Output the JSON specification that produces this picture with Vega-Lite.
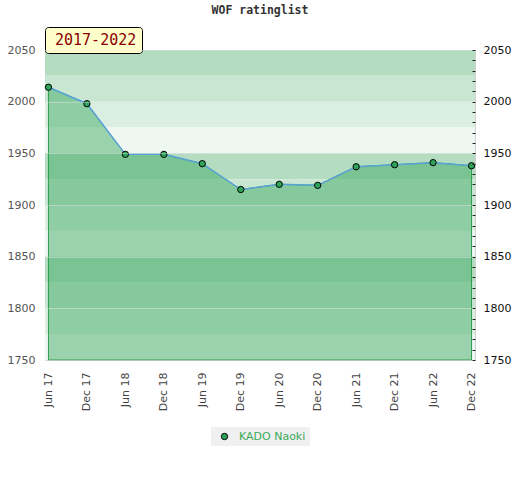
{
  "$schema": "https://vega.github.io/schema/vega-lite/v6.json",
  "autosize": "none",
  "width": 430,
  "height": 310,
  "padding": {"left": 45, "top": 50, "right": 45, "bottom": 120},
  "background": "white",
  "title": {
    "text": "WOF ratinglist",
    "font": "DejaVu Sans Mono",
    "fontSize": 11.5,
    "fontWeight": "bold",
    "color": "#333",
    "anchor": "middle",
    "offset": 10
  },
  "data": {
    "values": [
      {"period": "Jun 17", "rating": 2014, "player": "KADO Naoki"},
      {"period": "Dec 17", "rating": 1998, "player": "KADO Naoki"},
      {"period": "Jun 18", "rating": 1949, "player": "KADO Naoki"},
      {"period": "Dec 18", "rating": 1949, "player": "KADO Naoki"},
      {"period": "Jun 19", "rating": 1940, "player": "KADO Naoki"},
      {"period": "Dec 19", "rating": 1915, "player": "KADO Naoki"},
      {"period": "Jun 20", "rating": 1920, "player": "KADO Naoki"},
      {"period": "Dec 20", "rating": 1919, "player": "KADO Naoki"},
      {"period": "Jun 21", "rating": 1937, "player": "KADO Naoki"},
      {"period": "Dec 21", "rating": 1939, "player": "KADO Naoki"},
      {"period": "Jun 22", "rating": 1941, "player": "KADO Naoki"},
      {"period": "Dec 22", "rating": 1938, "player": "KADO Naoki"}
    ]
  },
  "layer": [
    {
      "data": {
        "values": [
          {"lo": 2025, "hi": 2050, "tier": "a"},
          {"lo": 2000, "hi": 2025, "tier": "b"},
          {"lo": 1975, "hi": 2000, "tier": "c"},
          {"lo": 1950, "hi": 1975, "tier": "d"},
          {"lo": 1925, "hi": 1950, "tier": "a"},
          {"lo": 1900, "hi": 1925, "tier": "b"},
          {"lo": 1875, "hi": 1900, "tier": "c"},
          {"lo": 1850, "hi": 1875, "tier": "d"},
          {"lo": 1825, "hi": 1850, "tier": "a"},
          {"lo": 1800, "hi": 1825, "tier": "b"},
          {"lo": 1775, "hi": 1800, "tier": "c"},
          {"lo": 1750, "hi": 1775, "tier": "d"}
        ]
      },
      "mark": {"type": "rect"},
      "encoding": {
        "x": {"value": 0},
        "x2": {"value": "width"},
        "y": {
          "field": "lo",
          "type": "quantitative",
          "scale": {"domain": [1750, 2050], "nice": false, "zero": false},
          "axis": {
            "orient": "left",
            "values": [1750, 1800, 1850, 1900, 1950, 2000, 2050],
            "format": "d",
            "grid": true,
            "gridColor": "#e2e2e2",
            "gridOpacity": 0.45,
            "ticks": false,
            "labelPadding": 10,
            "labelColor": "#555",
            "zindex": 1
          }
        },
        "y2": {"field": "hi"},
        "fill": {
          "field": "tier",
          "type": "nominal",
          "scale": {"domain": ["a", "b", "c", "d"], "range": ["#b3dcc1", "#c8e6d2", "#dbeee2", "#eef7f1"]},
          "legend": null
        }
      }
    },
    {
      "mark": {"type": "area", "color": "#3ca963", "fillOpacity": 0.48, "stroke": "#2e9e4f", "strokeWidth": 1},
      "encoding": {
        "x": {"field": "period", "type": "ordinal", "sort": null, "scale": {"type": "point", "padding": 0.09}},
        "y": {
          "field": "rating",
          "type": "quantitative",
          "scale": {"domain": [1750, 2050], "nice": false, "zero": false},
          "axis": {
            "orient": "right",
            "values": [1750, 1760, 1770, 1780, 1790, 1800, 1810, 1820, 1830, 1840, 1850, 1860, 1870, 1880, 1890, 1900, 1910, 1920, 1930, 1940, 1950, 1960, 1970, 1980, 1990, 2000, 2010, 2020, 2030, 2040, 2050],
            "format": "d",
            "labelExpr": "datum.value % 50 === 0 ? datum.label : ''",
            "grid": false,
            "ticks": true,
            "tickSize": -3,
            "tickColor": "#222",
            "labelPadding": 11,
            "labelColor": "#111",
            "labelOverlap": false,
            "zindex": 1
          }
        },
        "y2": {"datum": 1750}
      }
    },
    {
      "mark": {"type": "line", "color": "#5ba2d8", "strokeWidth": 1.5},
      "encoding": {
        "x": {"field": "period", "type": "ordinal", "sort": null},
        "y": {"field": "rating", "type": "quantitative", "axis": null}
      }
    },
    {
      "mark": {"type": "point", "filled": true, "stroke": "#000", "strokeWidth": 1, "size": 40, "opacity": 1},
      "encoding": {
        "x": {"field": "period", "type": "ordinal", "sort": null},
        "y": {"field": "rating", "type": "quantitative", "axis": null},
        "color": {
          "field": "player",
          "type": "nominal",
          "scale": {"range": ["#2ea35a"]},
          "legend": {
            "orient": "none",
            "legendX": 166,
            "legendY": 377,
            "title": null,
            "fillColor": "#f0f0f0",
            "padding": 4,
            "symbolOffset": 4,
            "symbolType": "circle",
            "symbolSize": 40,
            "symbolStrokeColor": "#000",
            "symbolStrokeWidth": 1,
            "symbolOpacity": 1,
            "labelColor": "#3aaa5a",
            "labelFont": "DejaVu Sans",
            "labelFontSize": 11,
            "labelOffset": 9
          }
        },
        "shape": {
          "datum": "2017-2022",
          "legend": {
            "orient": "none",
            "legendX": 0,
            "legendY": -23,
            "title": null,
            "fillColor": "#ffffcc",
            "strokeColor": "#000",
            "cornerRadius": 3,
            "padding": 5,
            "symbolSize": 0,
            "symbolStrokeWidth": 0,
            "labelOffset": -10,
            "labelColor": "#8b0000",
            "labelFont": "DejaVu Sans Mono",
            "labelFontSize": 15
          }
        }
      }
    }
  ],
  "resolve": {"axis": {"y": "independent"}},
  "config": {
    "view": {"stroke": "#d0d0d0"},
    "axis": {"title": null, "domain": false, "labelFont": "DejaVu Sans", "labelFontSize": 11},
    "axisX": {"ticks": false, "labelAngle": -90, "labelPadding": 12, "labelColor": "#444", "grid": false}
  }
}
